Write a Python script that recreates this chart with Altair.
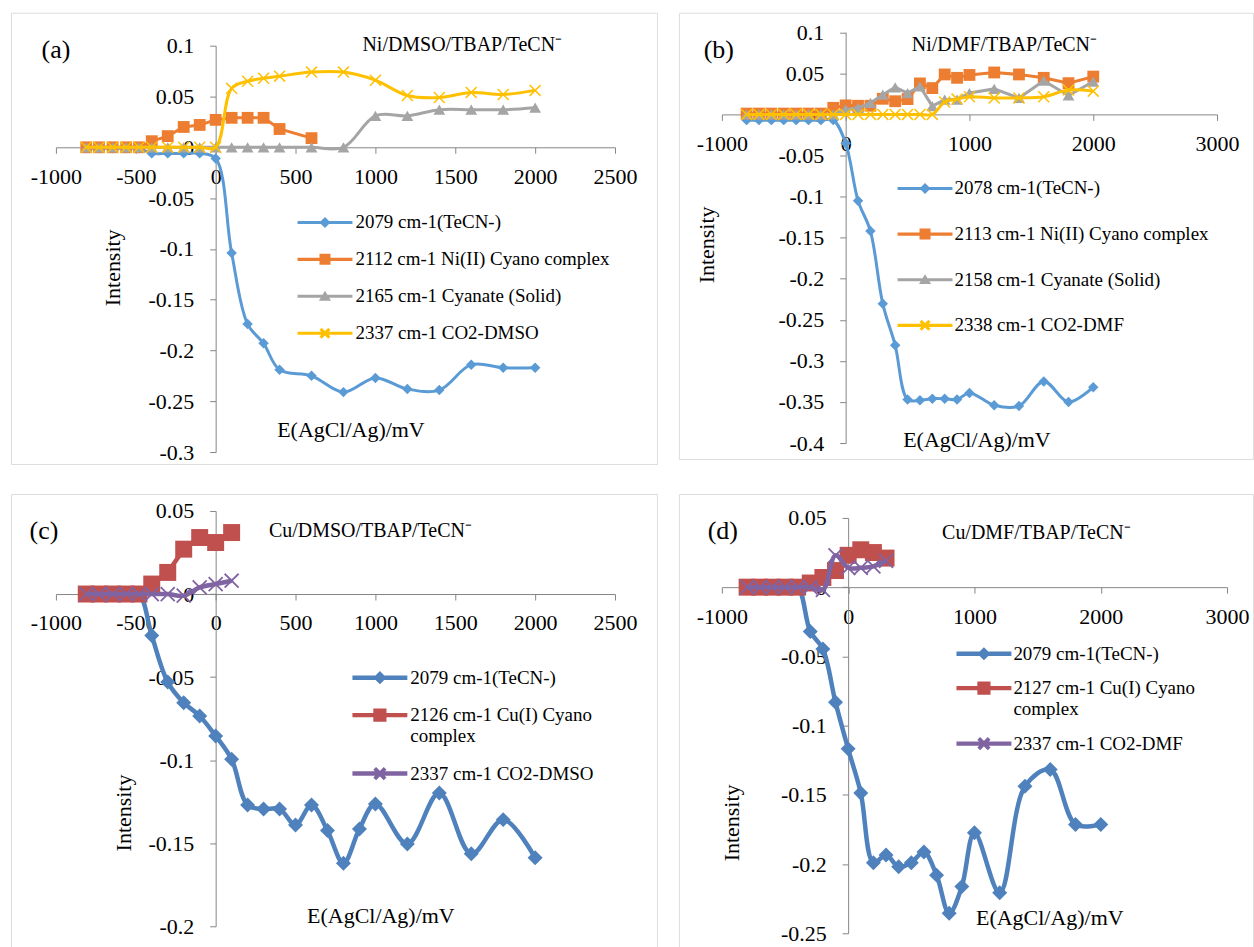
import altair as alt
import pandas as pd

FONT = "Liberation Serif"
GRAY = "#868686"

# ---------------- data ----------------
# (a) Ni/DMSO/TBAP/TeCN-
a_left = [-810, -730, -645, -560, -480]
a_blue_x = a_left + [-400, -300, -200, -100, 0, 100, 200, 300, 400, 600, 800, 1000, 1200, 1400, 1600, 1800, 2000]
a_blue_y = [-0.001] * 5 + [-0.006, -0.006, -0.006, -0.006, -0.011, -0.104, -0.174, -0.193, -0.219, -0.225,
                           -0.241, -0.227, -0.238, -0.239, -0.214, -0.217, -0.217]
a_orange_x = a_left + [-400, -300, -200, -100, 0, 100, 200, 300, 400, 600]
a_orange_y = [0] * 5 + [0.006, 0.011, 0.020, 0.022, 0.027, 0.029, 0.029, 0.029, 0.018, 0.009]
a_gray_x = a_left + [-400, -300, -200, -100, 0, 100, 200, 300, 400, 600, 800, 1000, 1200, 1400, 1600, 1800, 2000]
a_gray_y = [0] * 16 + [0.031, 0.031, 0.037, 0.037, 0.037, 0.039]
a_yellow_x = a_gray_x
a_yellow_y = [0] * 10 + [0.058, 0.065, 0.068, 0.070, 0.074, 0.074, 0.066, 0.051, 0.049, 0.054, 0.052, 0.056]
a_names = ["2079 cm-1(TeCN-)", "2112 cm-1 Ni(II) Cyano complex", "2165 cm-1 Cyanate (Solid)", "2337  cm-1 CO2-DMSO"]

# (b) Ni/DMF/TBAP/TeCN-
b_x = [-800, -700, -600, -500, -400, -300, -200, -100, 0, 100, 200, 300, 400, 500, 600, 700, 800, 900, 1000,
       1200, 1400, 1600, 1800, 2000]
b_blue_y = [-0.007] * 8 + [-0.035, -0.105, -0.142, -0.2305, -0.281, -0.347, -0.348, -0.346, -0.346, -0.347,
                           -0.339, -0.354, -0.355, -0.325, -0.350, -0.332]
b_orange_y = [0.001] * 7 + [0.008, 0.011, 0.0105, 0.0105, 0.019, 0.016, 0.0186, 0.0377, 0.032, 0.0486, 0.0445,
                            0.048, 0.051, 0.0486, 0.0445, 0.038, 0.046]
b_gray_y = [0] * 8 + [0.006, 0.008, 0.014, 0.024, 0.033, 0.026, 0.034, 0.010, 0.018, 0.018, 0.026, 0.031, 0.020,
                      0.041, 0.023, 0.040]
b_yellow_y = [0] * 16 + [0.015, 0.0186, 0.0215, 0.020, 0.020, 0.0215, 0.0296, 0.0283]
b_names = ["2078 cm-1(TeCN-)", "2113 cm-1 Ni(II) Cyano complex", "2158 cm-1 Cyanate (Solid)", "2338 cm-1 CO2-DMF"]

# (c) Cu/DMSO/TBAP/TeCN-
c_left = [-810, -730, -645, -560, -480]
c_blue_x = c_left + [-400, -300, -200, -100, 0, 100, 200, 300, 400, 500, 600, 700, 800, 900, 1000,
                     1200, 1400, 1600, 1800, 2000]
c_blue_y = [0] * 5 + [-0.025, -0.053, -0.0654, -0.0734, -0.0854, -0.0994, -0.127, -0.1294, -0.1294, -0.139,
                      -0.127, -0.1424, -0.162, -0.1414, -0.1264, -0.1504, -0.1198, -0.1564, -0.1358, -0.1588]
c_red_x = c_left + [-400, -300, -200, -100, 0, 100]
c_red_y = [0] * 5 + [0.006, 0.013, 0.027, 0.034, 0.031, 0.037]
c_purple_x = c_red_x
c_purple_y = [0] * 5 + [0, 0, -0.001, 0.004, 0.006, 0.008]
c_names = ["2079 cm-1(TeCN-)", "2126 cm-1 Cu(I) Cyano|complex", "2337  cm-1 CO2-DMSO"]

# (d) Cu/DMF/TBAP/TeCN-
d_blue_x = [-800, -700, -600, -500, -400, -300, -200, -100, 0, 100, 200, 300, 400, 500, 600, 700, 800, 900,
            1000, 1200, 1400, 1600, 1800, 2000]
d_blue_y = [0] * 5 + [-0.032, -0.0447, -0.0832, -0.1168, -0.1486, -0.199, -0.1935, -0.202, -0.199, -0.1913,
                      -0.208, -0.2356, -0.2163, -0.1774, -0.2207, -0.1438, -0.1317, -0.1714, -0.1714]
d_red_x = [-800, -700, -600, -500, -400, -300, -200, -100, 0, 100, 200, 300]
d_red_y = [0] * 5 + [0.003, 0.007, 0.012, 0.023, 0.027, 0.025, 0.021]
d_purple_x = d_red_x
d_purple_y = [0] * 5 + [0, -0.002, 0.023, 0.014, 0.014, 0.015, 0.019]
d_names = ["2079 cm-1(TeCN-)", "2127 cm-1 Cu(I) Cyano|complex", "2337 cm-1 CO2-DMF"]

# ticks
a_xticks = [-1000, -500, 0, 500, 1000, 1500, 2000, 2500]
a_yticks = [-0.3, -0.25, -0.2, -0.15, -0.1, -0.05, 0, 0.05, 0.1]
b_xticks = [-1000, 0, 1000, 2000, 3000]
b_yticks = [-0.4, -0.35, -0.3, -0.25, -0.2, -0.15, -0.1, -0.05, 0, 0.05, 0.1]
c_yticks = [-0.2, -0.15, -0.1, -0.05, 0, 0.05]
d_yticks = [-0.25, -0.2, -0.15, -0.1, -0.05, 0, 0.05]

# -------------- styling helpers ---------------
X_PATH = "M-1,-1L1,1M-1,1L1,-1"


def leg_path(kind, L, lt, m, t=0.2, dy=0.0):
    f = lambda v: f"{v:.3f}"
    rect = f"M{f(-L)},{f(dy - lt)}H{f(L)}V{f(dy + lt)}H{f(-L)}Z"
    if kind == "diamond":
        mk = f"M0,{f(dy - m)}L{f(m)},{f(dy)}L0,{f(dy + m)}L{f(-m)},{f(dy)}Z"
    elif kind == "square":
        mk = f"M{f(-m)},{f(dy - m)}H{f(m)}V{f(dy + m)}H{f(-m)}Z"
    elif kind == "triangle-up":
        mk = f"M0,{f(dy - m)}L{f(m * 1.1)},{f(dy + m * 0.8)}L{f(-m * 1.1)},{f(dy + m * 0.8)}Z"
    else:
        a = m
        q1 = (f"M{f(-a)},{f(dy - a + t)}L{f(-a + t)},{f(dy - a)}L{f(a)},{f(dy + a - t)}"
              f"L{f(a - t)},{f(dy + a)}Z")
        q2 = (f"M{f(a - t)},{f(dy - a)}L{f(a)},{f(dy - a + t)}L{f(-a + t)},{f(dy + a)}"
              f"L{f(-a)},{f(dy + a - t)}Z")
        mk = q1 + q2
    return rect + mk


MINUS_FIX = "replace(datum.label, '\u2212', '-')"


def make_panel(p):
    W, H = p["size"]
    xd, yd = p["xdomain"], p["ydomain"]
    xr, yr = p["xrange"], p["yrange"]
    x0 = xr[0] + (0 - xd[0]) / (xd[1] - xd[0]) * (xr[1] - xr[0])
    y0 = yr[0] + (0 - yd[0]) / (yd[1] - yd[0]) * (yr[1] - yr[0])

    rows = []
    for s in p["series"]:
        for xv, yv in zip(s["x"], s["y"]):
            rows.append({"series": s["name"], "x": xv, "y": yv})
    df = pd.DataFrame(rows)
    base = alt.Chart(df)

    fs = p["fs"]
    xaxis = alt.Axis(values=p["xticks"], orient="bottom", offset=y0 - H, grid=False, domainColor=GRAY,
                     tickColor=GRAY, tickSize=6, labelFont=FONT, labelFontSize=fs, labelColor="black",
                     labelPadding=p["xlp"], format="d", labelExpr=MINUS_FIX, labelFlush=False,
                     labelOverlap=False, zindex=0,
                     title="E(AgCl/Ag)/mV", titleFont=FONT, titleFontSize=fs, titleFontWeight="normal",
                     titleColor="black", titleX=p["xt"][0], titleY=p["xt"][1] - y0, titleAlign="center",
                     titleBaseline="middle", titleAnchor="start")
    yaxis = alt.Axis(values=p["yticks"], orient="left", offset=-x0, grid=False, domainColor=GRAY,
                     tickColor=GRAY, tickSize=6, labelFont=FONT, labelFontSize=fs, labelColor="black",
                     labelPadding=p["ylp"], format="~g", labelExpr=MINUS_FIX, labelFlush=False,
                     labelOverlap=False, zindex=0,
                     title="Intensity", titleFont=FONT, titleFontSize=fs, titleFontWeight="normal",
                     titleColor="black", titleX=p["yt"][0] - x0, titleY=p["yt"][1], titleAngle=270,
                     titleAlign="center", titleBaseline="middle", titleAnchor="start")
    xenc = alt.X("x:Q", scale=alt.Scale(domain=xd, range=xr, nice=False, zero=False), axis=xaxis)
    yenc = alt.Y("y:Q", scale=alt.Scale(domain=yd, range=yr, nice=False, zero=False), axis=yaxis)

    layers = []
    for s in p["series"]:
        sub = base.transform_filter(alt.datum.series == s["name"])
        layers.append(sub.mark_line(color=s["color"], strokeWidth=s["lw"], interpolate=s["interp"])
                      .encode(x=xenc, y=yenc))
        if s["shape"] == "x":
            pt = sub.mark_point(shape=X_PATH, size=s["size"], filled=False, color=s["color"],
                                strokeWidth=s.get("sw", 1.5), opacity=1)
        else:
            pt = sub.mark_point(shape=s["shape"], size=s["size"], filled=True, color=s["color"], opacity=1)
        layers.append(pt.encode(x=xenc, y=yenc))

    lg = p["legend"]
    names = [s["name"] for s in p["series"]]
    colors = [s["color"] for s in p["series"]]
    paths = [leg_path(s["shape"], 2.5, lg["lt"], lg["m"], lg.get("t", 0.2), lg.get("dy", 0.0))
             for s in p["series"]]
    legend_kw = dict(orient="none", legendX=lg["x"], legendY=lg["y"], title=None, labelFont=FONT,
                     labelFontSize=lg["fs"], labelColor="black", symbolSize=484, symbolStrokeWidth=0,
                     labelOffset=lg["lo"], rowPadding=lg["rp"], padding=0, labelLimit=600,
                     labelBaseline=lg.get("baseline", "middle"), symbolOpacity=1,
                     labelExpr="split(datum.label, '|')")
    leg_layer = base.transform_filter("false").mark_point(filled=True, opacity=1).encode(
        color=alt.Color("series:N", scale=alt.Scale(domain=names, range=colors), legend=alt.Legend(**legend_kw)),
        shape=alt.Shape("series:N", scale=alt.Scale(domain=names, range=paths), legend=alt.Legend(**legend_kw)),
    )
    layers.append(leg_layer)

    tag, tx, ty = p["tag"]
    ttl, ttx, tty = p["title"]
    layers.append(alt.Chart(pd.DataFrame({"t": [tag]})).mark_text(
        font=FONT, fontSize=p["tagfs"], align="center", baseline="middle", color="black")
        .encode(text="t:N", x=alt.value(tx), y=alt.value(ty)))
    layers.append(alt.Chart(pd.DataFrame({"t": [ttl]})).mark_text(
        font=FONT, fontSize=p["titlefs"], align="center", baseline="middle", color="black")
        .encode(text="t:N", x=alt.value(ttx), y=alt.value(tty)))

    return alt.layer(*layers).properties(width=W, height=H)


BLUE1, ORANGE, GRAY1, YELLOW = "#5B9BD5", "#ED7D31", "#A5A5A5", "#FFC000"
BLUE2, RED2, PURPLE2 = "#4F81BD", "#C0504D", "#8064A2"

pa = dict(
    size=(647, 452), xdomain=[-1000, 2500], xrange=[45, 605], ydomain=[-0.3, 0.1], yrange=[440, 33],
    xticks=a_xticks, yticks=a_yticks, fs=22, xlp=13, ylp=16, xt=(340, 417), yt=(102, 255),
    tag=("(a)", 45, 37), title=("Ni/DMSO/TBAP/TeCN\u207b", 452, 32), tagfs=26, titlefs=20,
    series=[
        dict(name=a_names[0], x=a_blue_x, y=a_blue_y, color=BLUE1, lw=3, interp="catmull-rom", shape="diamond", size=110),
        dict(name=a_names[1], x=a_orange_x, y=a_orange_y, color=ORANGE, lw=3, interp="linear", shape="square", size=140),
        dict(name=a_names[2], x=a_gray_x, y=a_gray_y, color=GRAY1, lw=3, interp="catmull-rom", shape="triangle-up", size=140),
        dict(name=a_names[3], x=a_yellow_x, y=a_yellow_y, color=YELLOW, lw=3, interp="catmull-rom", shape="x", size=120, sw=1.5),
    ],
    legend=dict(x=303.5, y=199, fs=19, lo=19.5, rp=16, lt=0.14, m=0.5),
)
pb = dict(
    size=(575, 447), xdomain=[-1000, 3000], xrange=[43, 539], ydomain=[-0.4, 0.1], yrange=[431, 19.5],
    xticks=b_xticks, yticks=b_yticks, fs=22, xlp=13, ylp=16, xt=(298, 427), yt=(28, 232),
    tag=("(b)", 40, 37), title=("Ni/DMF/TBAP/TeCN\u207b", 326, 32), tagfs=26, titlefs=20,
    series=[
        dict(name=b_names[0], x=b_x, y=b_blue_y, color=BLUE1, lw=3, interp="catmull-rom", shape="diamond", size=110),
        dict(name=b_names[1], x=b_x, y=b_orange_y, color=ORANGE, lw=3, interp="linear", shape="square", size=140),
        dict(name=b_names[2], x=b_x, y=b_gray_y, color=GRAY1, lw=3, interp="linear", shape="triangle-up", size=140),
        dict(name=b_names[3], x=b_x, y=b_yellow_y, color=YELLOW, lw=3, interp="catmull-rom", shape="x", size=120, sw=1.5),
    ],
    legend=dict(x=235.5, y=165, fs=19, lo=18.5, rp=24.7, lt=0.14, m=0.5),
)
pc = dict(
    size=(647, 470), xdomain=[-1000, 2500], xrange=[45, 605], ydomain=[-0.2, 0.05], yrange=[433, 17],
    xticks=a_xticks, yticks=c_yticks, fs=22, xlp=13, ylp=16, xt=(370, 422), yt=(113, 319),
    tag=("(c)", 33, 37), title=("Cu/DMSO/TBAP/TeCN\u207b", 360, 37), tagfs=26, titlefs=20,
    series=[
        dict(name=c_names[0], x=c_blue_x, y=c_blue_y, color=BLUE2, lw=4.5, interp="catmull-rom", shape="diamond", size=225),
        dict(name=c_names[1], x=c_red_x, y=c_red_y, color=RED2, lw=4.5, interp="linear", shape="square", size=289),
        dict(name=c_names[2], x=c_purple_x, y=c_purple_y, color=PURPLE2, lw=4.5, interp="catmull-rom", shape="x", size=196, sw=1.8),
    ],
    legend=dict(x=358.5, y=173, fs=19, lo=19.5, rp=16.5, lt=0.2, m=0.6, t=0.25),
)
pd_ = dict(
    size=(575, 470), xdomain=[-1000, 3000], xrange=[43, 549], ydomain=[-0.25, 0.05], yrange=[440, 24],
    xticks=b_xticks, yticks=d_yticks, fs=22, xlp=13, ylp=16, xt=(371, 424), yt=(53, 329),
    tag=("(d)", 44, 37), title=("Cu/DMF/TBAP/TeCN\u207b", 358, 39), tagfs=26, titlefs=20,
    series=[
        dict(name=d_names[0], x=d_blue_x, y=d_blue_y, color=BLUE2, lw=4.5, interp="catmull-rom", shape="diamond", size=225),
        dict(name=d_names[1], x=d_red_x, y=d_red_y, color=RED2, lw=4.5, interp="linear", shape="square", size=289),
        dict(name=d_names[2], x=d_purple_x, y=d_purple_y, color=PURPLE2, lw=4.5, interp="catmull-rom", shape="x", size=196, sw=1.8),
    ],
    legend=dict(x=294.5, y=149, fs=19, lo=18.5, rp=13.5, lt=0.2, m=0.6, t=0.25),
)

row1 = alt.hconcat(make_panel(pa), make_panel(pb), spacing=20).resolve_scale(
    color="independent", shape="independent").resolve_legend(color="independent", shape="independent")
row2 = alt.hconcat(make_panel(pc), make_panel(pd_), spacing=20).resolve_scale(
    color="independent", shape="independent").resolve_legend(color="independent", shape="independent")
chart = alt.vconcat(row1, row2, spacing=28).resolve_scale(
    color="independent", shape="independent").resolve_legend(color="independent", shape="independent").properties(
    padding={"left": 10, "top": 11, "right": 0, "bottom": 0}
).configure_view(stroke=GRAY, strokeWidth=1).configure(background="white")

chart.save("out.html", embed_options={"renderer": "svg", "actions": False})
